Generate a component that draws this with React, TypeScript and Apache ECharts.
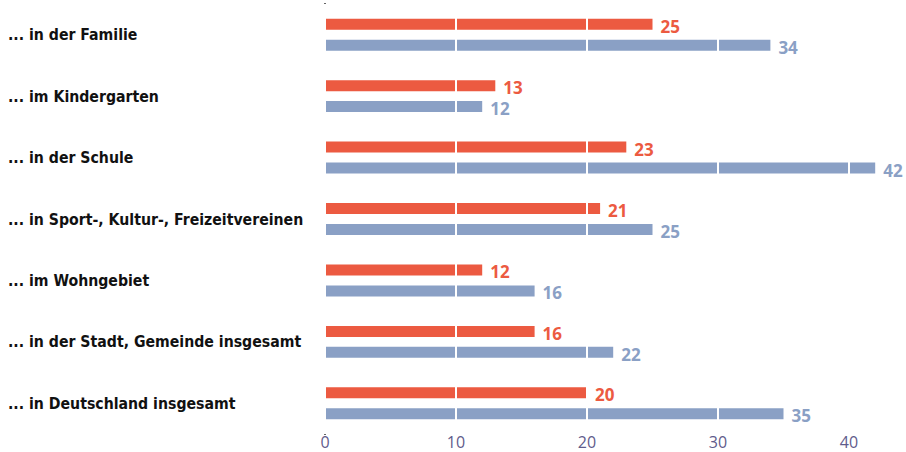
import React, { useEffect, useRef } from "react";
import * as echarts from "echarts";

const categories = [
  "... in der Familie",
  "... im Kindergarten",
  "... in der Schule",
  "... in Sport-, Kultur-, Freizeitvereinen",
  "... im Wohngebiet",
  "... in der Stadt, Gemeinde insgesamt",
  "... in Deutschland insgesamt",
];
const seriesRed = [25, 13, 23, 21, 12, 16, 20];
const seriesBlue = [34, 12, 42, 25, 16, 22, 35];
const xTicks = [0, 10, 20, 30, 40];

const RED = "#ec5a41";
const BLUE = "#8aa0c5";

export default function App() {
  const ref = useRef<HTMLDivElement>(null);
  useEffect(() => {
    if (!ref.current) return;
    const chart = echarts.init(ref.current, undefined, { renderer: "svg" });
    chart.setOption({
      animation: false,
      grid: { left: 325, right: 57, top: 4, bottom: 18, containLabel: false },
      xAxis: {
        type: "value",
        min: xTicks[0],
        max: xTicks[xTicks.length - 1],
        interval: 10,
        z: 10,
        axisLine: { show: false },
        axisTick: { show: false },
        splitLine: { show: true, lineStyle: { color: "#ffffff", width: 2 } },
        axisLabel: {
          color: "#5f5c8c",
          fontSize: 16,
          fontFamily: "Open Sans",
          margin: 0,
        },
      },
      yAxis: {
        type: "category",
        data: categories,
        inverse: true,
        axisLine: { show: true, lineStyle: { color: "#333333", width: 2 } },
        axisTick: { show: false },
        splitLine: { show: false },
        axisLabel: {
          align: "left",
          margin: 317,
          color: "#111111",
          fontSize: 15.7,
          fontWeight: "bold",
          fontFamily: "'DejaVu Sans Condensed', 'Roboto Condensed', Roboto, sans-serif",
        },
      },
      series: [
        {
          type: "bar",
          data: seriesRed,
          barWidth: 11,
          barGap: "90%",
          clip: false,
          itemStyle: { color: RED },
          label: {
            show: true,
            position: "right",
            distance: 8,
            color: RED,
            fontSize: 17,
            fontWeight: "bold",
            fontFamily: "Open Sans",
            offset: [0, 2],
          },
        },
        {
          type: "bar",
          data: seriesBlue,
          barWidth: 11,
          clip: false,
          itemStyle: { color: BLUE },
          label: {
            show: true,
            position: "right",
            distance: 8,
            color: BLUE,
            fontSize: 17,
            fontWeight: "bold",
            fontFamily: "Open Sans",
            offset: [0, 2],
          },
        },
      ],
    });
    return () => chart.dispose();
  }, []);
  return (
    <div
      ref={ref}
      style={{ position: "absolute", left: 0, top: 0, width: 906, height: 452 }}
    />
  );
}
